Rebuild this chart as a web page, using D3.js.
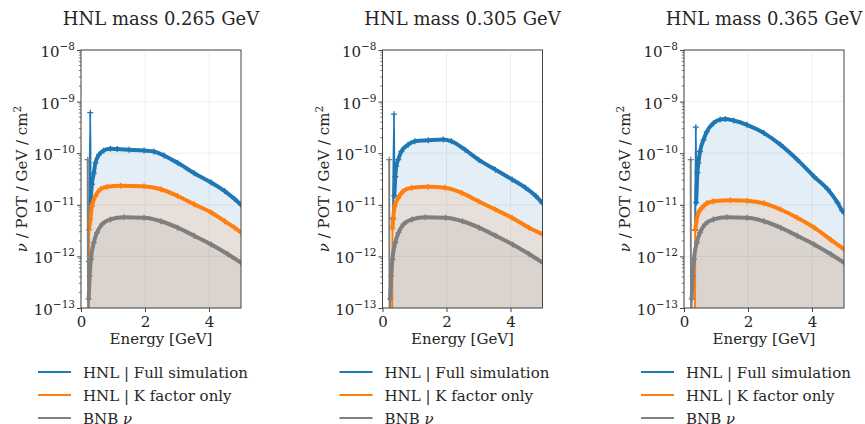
<!DOCTYPE html>
<html>
<head>
<meta charset="utf-8">
<script src="https://cdn.jsdelivr.net/npm/d3@7"></script>
<style>
  body { margin: 0; background: #fff; }
  svg { display: block; }
  text { font-family: "DejaVu Serif", serif; fill: #262626; }
</style>
</head>
<body>
<svg id="chart" width="865" height="424"></svg>
<script>
// Panel titles (one HNL mass per panel)
const massLabels = ["HNL mass 0.265 GeV", "HNL mass 0.305 GeV", "HNL mass 0.365 GeV"];
// Legend entries
const seriesNames = ["HNL | Full simulation", "HNL | K factor only", "BNB ν"];
const seriesColors = ["#1f77b4", "#ff7f0e", "#7f7f7f"];
// Axis ticks
const xTicks = [0, 2, 4];
const yTickExponents = [-13, -12, -11, -10, -9, -8];

// BNB ν flux, identical in every panel [GeV, ν/POT/GeV/cm²]
const bnbEnergy = [0.21, 0.22, 0.24, 0.27, 0.31, 0.40, 0.50, 0.66, 0.92, 1.34, 1.97, 2.50, 3.02, 3.54, 4.07, 4.59, 5.00];
const bnbFlux   = [7.5e-11, 1e-14, 1.5e-13, 4.2e-13, 8.8e-13, 1.85e-12, 2.9e-12, 4.2e-12, 5.2e-12, 5.75e-12, 5.6e-12, 4.8e-12, 3.6e-12, 2.5e-12, 1.7e-12, 1.1e-12, 7.6e-13];

// HNL 0.265 GeV
const full265Energy = [0.25, 0.29, 0.30, 0.34, 0.40, 0.45, 0.56, 0.71, 0.92, 1.13, 1.50, 1.97, 2.28, 2.60, 3.02, 3.54, 4.07, 4.49, 4.80, 5.00];
const full265Flux   = [8e-13, 6.1e-10, 1.2e-11, 2.5e-11, 4.1e-11, 6.5e-11, 9.3e-11, 1.13e-10, 1.22e-10, 1.2e-10, 1.17e-10, 1.13e-10, 1.08e-10, 9.0e-11, 6.5e-11, 4.1e-11, 2.7e-11, 1.85e-11, 1.3e-11, 1.0e-11];
const kfac265Energy = [0.24, 0.25, 0.29, 0.34, 0.45, 0.61, 0.82, 1.24, 1.97, 2.50, 3.02, 3.54, 4.07, 4.49, 4.80, 5.00];
const kfac265Flux   = [1e-14, 3.3e-12, 5.2e-12, 9.3e-12, 1.48e-11, 2.0e-11, 2.24e-11, 2.34e-11, 2.29e-11, 2.0e-11, 1.48e-11, 1.02e-11, 7.1e-12, 4.8e-12, 3.6e-12, 2.9e-12];

// HNL 0.305 GeV
const full305Energy = [0.33, 0.36, 0.37, 0.40, 0.43, 0.49, 0.59, 0.80, 1.01, 1.43, 1.90, 2.16, 2.58, 3.00, 3.53, 4.05, 4.47, 4.79, 5.00];
const full305Flux   = [5.5e-12, 5.7e-10, 1.5e-11, 3.5e-11, 5.6e-11, 7.5e-11, 1.08e-10, 1.46e-10, 1.7e-10, 1.78e-10, 1.85e-10, 1.7e-10, 1.17e-10, 7.5e-11, 4.8e-11, 3.1e-11, 2.14e-11, 1.48e-11, 1.07e-11];
const kfac305Energy = [0.30, 0.31, 0.33, 0.38, 0.49, 0.64, 0.91, 1.43, 1.95, 2.48, 3.00, 3.53, 4.05, 4.58, 5.00];
const kfac305Flux   = [1e-14, 3.5e-12, 5.2e-12, 9.3e-12, 1.36e-11, 1.82e-11, 2.14e-11, 2.24e-11, 2.14e-11, 1.7e-11, 1.17e-11, 8.1e-12, 5.6e-12, 3.6e-12, 2.7e-12];

// HNL 0.365 GeV
const full365Energy = [0.35, 0.37, 0.38, 0.42, 0.45, 0.50, 0.61, 0.71, 0.92, 1.13, 1.29, 1.55, 1.97, 2.50, 3.02, 3.54, 4.07, 4.49, 4.80, 4.95, 5.00];
const full365Flux   = [3.2e-12, 3.2e-10, 1.1e-11, 4.2e-11, 6.5e-11, 1.08e-10, 1.82e-10, 2.6e-10, 3.8e-10, 4.5e-10, 4.6e-10, 4.3e-10, 3.55e-10, 2.45e-10, 1.45e-10, 7.5e-11, 3.5e-11, 2.0e-11, 1.1e-11, 7.6e-12, 7.1e-12];
const kfac365Energy = [0.34, 0.35, 0.45, 0.56, 0.71, 0.92, 1.45, 1.97, 2.50, 3.02, 3.54, 4.07, 4.59, 5.00];
const kfac365Flux   = [1e-14, 3.3e-12, 7.1e-12, 8.7e-12, 1.07e-11, 1.17e-11, 1.23e-11, 1.2e-11, 1.07e-11, 8.1e-12, 5.6e-12, 3.6e-12, 2.1e-12, 1.38e-12];

const zip = (xs, ys) => xs.map((e, i) => ({ e, v: ys[i] }));
const panels = [
  [zip(full265Energy, full265Flux), zip(kfac265Energy, kfac265Flux), zip(bnbEnergy, bnbFlux)],
  [zip(full305Energy, full305Flux), zip(kfac305Energy, kfac305Flux), zip(bnbEnergy, bnbFlux)],
  [zip(full365Energy, full365Flux), zip(kfac365Energy, kfac365Flux), zip(bnbEnergy, bnbFlux)]
];

// Layout
const plotTop = 50, plotBottom = 308, plotWidth = 160;
const panelLeft = i => 81 + i * 301.5;
const yMin = 1e-13;
const svg = d3.select("#chart");

const y = d3.scaleLog().domain([yMin, 1e-8]).range([plotBottom, plotTop]);
const yMinor = [];
for (let k = -13; k < -8; k++) for (let m = 2; m <= 9; m++) yMinor.push(m * Math.pow(10, k));

// The densely sampled part of a spectrum starts after the single-bin spike
// (a drop by more than a decade) and after any leading off-scale bins.
function denseStart(pts) {
  let start = 0;
  for (let i = 1; i < pts.length; i++) if (pts[i].v < pts[i - 1].v / 10) start = i;
  while (start < pts.length && pts[start].v < yMin) start++;
  return start;
}

panels.forEach((series, i) => {
  const left = panelLeft(i);
  const x = d3.scaleLinear().domain([0, 5]).range([0, plotWidth]);
  const g = svg.append("g").attr("transform", `translate(${left},0)`);

  // grid
  g.append("g").selectAll("line").data(xTicks).join("line")
    .attr("x1", d => x(d)).attr("x2", d => x(d))
    .attr("y1", plotTop).attr("y2", plotBottom)
    .attr("stroke", "#ebebeb").attr("stroke-width", 0.8);
  g.append("g").selectAll("line").data(yTickExponents).join("line")
    .attr("x1", 0).attr("x2", plotWidth)
    .attr("y1", d => y(Math.pow(10, d))).attr("y2", d => y(Math.pow(10, d)))
    .attr("stroke", "#ebebeb").attr("stroke-width", 0.8);

  const clipId = `clip${i}`;
  g.append("clipPath").attr("id", clipId).append("rect")
    .attr("x", 0).attr("y", plotTop).attr("width", plotWidth).attr("height", plotBottom - plotTop);
  const plot = g.append("g").attr("clip-path", `url(#${clipId})`);

  const yv = d => y(Math.max(d.v, 1e-15));
  const area = d3.area().x(d => x(d.e)).y0(plotBottom).y1(yv).curve(d3.curveMonotoneX);
  const line = d3.line().x(d => x(d.e)).y(yv).curve(d3.curveMonotoneX);

  series.forEach((pts, s) => {
    plot.append("path").datum(pts).attr("d", area)
      .attr("fill", seriesColors[s]).attr("fill-opacity", 0.12);
  });
  series.forEach((pts, s) => {
    const c = seriesColors[s];
    plot.append("path").datum(pts).attr("d", line)
      .attr("fill", "none").attr("stroke", c)
      .attr("stroke-width", 2).attr("stroke-linejoin", "round");
    // thick band where the markers crowd together
    const dense = pts.slice(denseStart(pts));
    plot.append("path").datum(dense).attr("d", line)
      .attr("fill", "none").attr("stroke", c)
      .attr("stroke-width", 4).attr("stroke-linejoin", "round").attr("stroke-linecap", "round");
    plot.append("g").selectAll("path").data(pts).join("path")
      .attr("transform", d => `translate(${x(d.e)},${yv(d)})`)
      .attr("d", "M-3,0H3M0,-3V3")
      .attr("stroke", c).attr("stroke-width", 1.3);
  });

  // frame
  g.append("rect").attr("x", 0).attr("y", plotTop)
    .attr("width", plotWidth).attr("height", plotBottom - plotTop)
    .attr("fill", "none").attr("stroke", "#444").attr("stroke-width", 1);

  // x axis
  const xAxis = g.append("g").attr("transform", `translate(0,${plotBottom})`)
    .call(d3.axisBottom(x).tickValues(xTicks).tickSize(4).tickPadding(4).tickFormat(d3.format("d")));
  xAxis.select(".domain").remove();
  xAxis.selectAll(".tick line").attr("stroke", "#444");
  xAxis.selectAll(".tick text").attr("font-size", 15).attr("font-family", "DejaVu Serif").attr("fill", "#262626");

  g.append("text").attr("x", plotWidth / 2).attr("y", 344)
    .attr("text-anchor", "middle").attr("font-size", 15).text("Energy [GeV]");

  // y axis
  const yAxis = g.append("g")
    .call(d3.axisLeft(y).tickValues(yTickExponents.map(k => Math.pow(10, k))).tickSize(4).tickFormat(() => ""));
  yAxis.select(".domain").remove();
  yAxis.selectAll(".tick line").attr("stroke", "#444");
  yAxis.selectAll(".tick text").remove();
  g.append("g").selectAll("line").data(yMinor).join("line")
    .attr("x1", -2.2).attr("x2", 0).attr("y1", d => y(d)).attr("y2", d => y(d))
    .attr("stroke", "#444").attr("stroke-width", 0.7);

  yTickExponents.forEach(k => {
    const t = g.append("text").attr("x", -6).attr("y", y(Math.pow(10, k)) + 7)
      .attr("text-anchor", "end");
    t.append("tspan").attr("font-size", 15).text("10");
    t.append("tspan").attr("font-size", 10.5).attr("dy", -7).text(`\u2212${-k}`);
  });

  // y label
  const yl = g.append("text").attr("transform", `translate(-54,${(plotTop + plotBottom) / 2}) rotate(-90)`)
    .attr("text-anchor", "middle").attr("font-size", 15);
  yl.append("tspan").attr("font-style", "italic").text("ν");
  yl.append("tspan").text(" / POT / GeV / cm");
  yl.append("tspan").attr("font-size", 10.5).attr("dy", -6).text("2");

  // title
  g.append("text").attr("x", plotWidth / 2).attr("y", 25)
    .attr("text-anchor", "middle").attr("font-size", 18).text(massLabels[i]);

  // legend
  seriesNames.forEach((name, s) => {
    const cy = 372 + s * 23;
    g.append("line").attr("x1", -43).attr("x2", -10).attr("y1", cy).attr("y2", cy)
      .attr("stroke", seriesColors[s]).attr("stroke-width", 2);
    const t = g.append("text").attr("x", 2).attr("y", cy + 5.5).attr("font-size", 15);
    if (name.endsWith("ν")) {
      t.append("tspan").text(name.slice(0, -1));
      t.append("tspan").attr("font-style", "italic").text("ν");
    } else {
      t.text(name);
    }
  });
});
</script>
</body>
</html>
